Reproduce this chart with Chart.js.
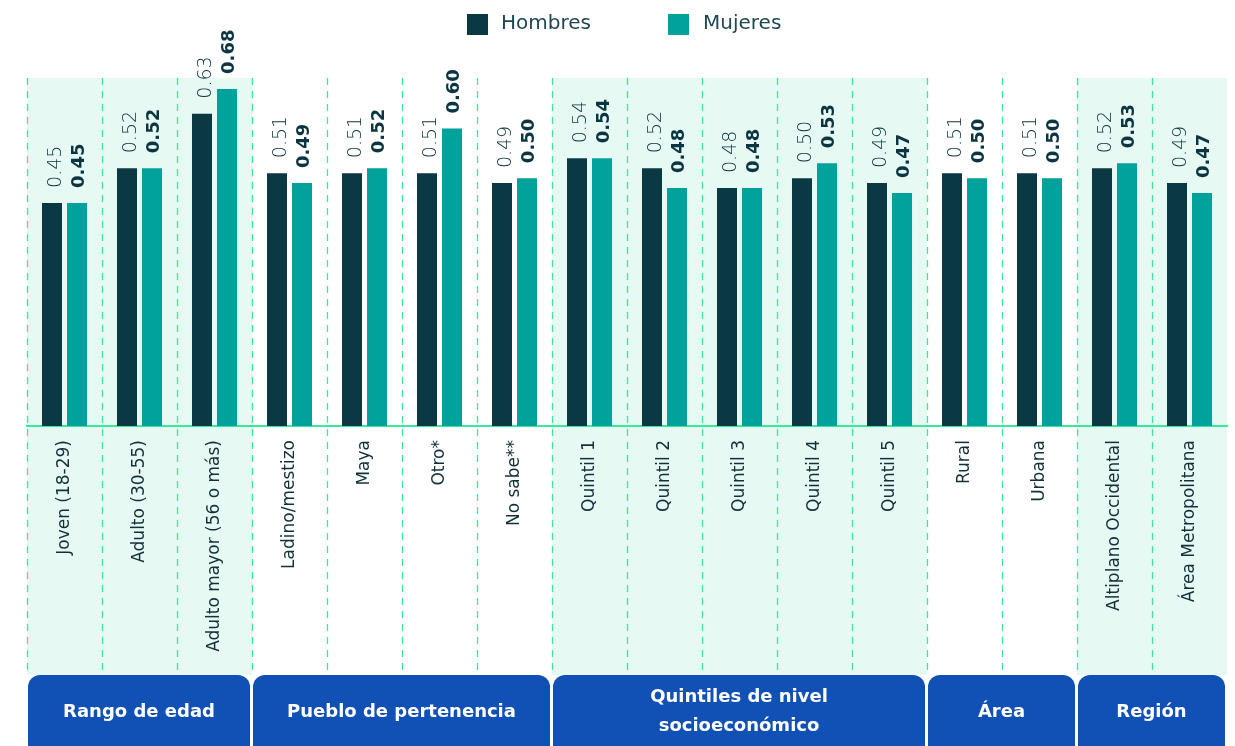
<!DOCTYPE html>
<html>
<head>
<meta charset="utf-8">
<script src="https://cdn.jsdelivr.net/npm/chart.js@4/dist/chart.umd.min.js"></script>
<style>
html,body{margin:0;padding:0;background:#fff;}
#wrap{width:1235px;height:746px;position:relative;}
</style>
</head>
<body>
<div id="wrap"><canvas id="c"></canvas></div>
<script>
const categories = ["Joven (18-29)","Adulto (30-55)","Adulto mayor (56 o más)","Ladino/mestizo","Maya","Otro*","No sabe**","Quintil 1","Quintil 2","Quintil 3","Quintil 4","Quintil 5","Rural","Urbana","Altiplano Occidental","Área Metropolitana"];
const hombres = [0.45,0.52,0.63,0.51,0.51,0.51,0.49,0.54,0.52,0.48,0.50,0.49,0.51,0.51,0.52,0.49];
const mujeres = [0.45,0.52,0.68,0.49,0.52,0.60,0.50,0.54,0.48,0.48,0.53,0.47,0.50,0.50,0.53,0.47];
const seriesNames = ["Hombres","Mujeres"];
const groupNames = [["Rango de edad"],["Pueblo de pertenencia"],["Quintiles de nivel","socioeconómico"],["Área"],["Región"]];
const groupSizes = [3,4,5,2,2];
const groupShaded = [true,false,true,false,true];

const C_H = '#0a3843', C_M = '#00a29b', C_SHADE = '#e6f9f3', C_DASH = '#3ae89c', C_BOX = '#1150b4', C_TXT = '#12303a';

const decor = {
  id:'decor',
  beforeDraw(chart){
    const ctx = chart.ctx, x = chart.scales.x, ca = chart.chartArea;
    const step = x.getPixelForValue(1) - x.getPixelForValue(0);
    const top = ca.top - 1, bottom = 675;
    ctx.save();
    let idx = 0;
    groupSizes.forEach((n,g)=>{
      const l = x.getPixelForValue(idx) - step/2;
      const r = x.getPixelForValue(idx+n-1) + step/2;
      if(groupShaded[g]){ ctx.fillStyle = C_SHADE; ctx.fillRect(l, top, r-l, bottom-top); }
      idx += n;
    });
    ctx.strokeStyle = C_DASH; ctx.lineWidth = 1.3; ctx.setLineDash([7,6]);
    for(let i=0;i<categories.length;i++){
      const px = Math.round(x.getPixelForValue(i) - step/2) + 0.5;
      ctx.beginPath(); ctx.moveTo(px, top); ctx.lineTo(px, bottom); ctx.stroke();
    }
    ctx.restore();
  },
  afterDatasetsDraw(chart){
    const ctx = chart.ctx;
    ctx.save();
    chart.data.datasets.forEach((ds,di)=>{
      const meta = chart.getDatasetMeta(di);
      meta.data.forEach((bar,i)=>{
        ctx.save();
        ctx.translate(bar.x + (di===0?9:7), bar.y - 15);
        ctx.rotate(-Math.PI/2);
        ctx.font = di===0 ? '300 19px "DejaVu Sans"' : 'bold 18px "DejaVu Sans"';
        ctx.fillStyle = di===0 ? '#083039' : '#0b3540';
        ctx.textAlign = 'left'; ctx.textBaseline = 'alphabetic';
        ctx.fillText(ds.data[i].toFixed(2), 0, 0);
        ctx.restore();
      });
    });
    ctx.restore();
  },
  afterDraw(chart){
    const ctx = chart.ctx, x = chart.scales.x;
    const step = x.getPixelForValue(1) - x.getPixelForValue(0);
    ctx.save();
    let idx = 0;
    groupSizes.forEach((n,g)=>{
      const l = x.getPixelForValue(idx) - step/2 + 1;
      const r = x.getPixelForValue(idx+n-1) + step/2 - 2;
      ctx.fillStyle = C_BOX;
      ctx.beginPath(); ctx.roundRect(l, 675, r-l, 90, 12); ctx.fill();
      ctx.fillStyle = '#ffffff'; ctx.font = 'bold 18px "DejaVu Sans"';
      ctx.textAlign = 'center'; ctx.textBaseline = 'middle';
      const lines = groupNames[g];
      const cx = (l+r)/2;
      if(lines.length === 1){ ctx.fillText(lines[0], cx, 712); }
      else { ctx.fillText(lines[0], cx, 697); ctx.fillText(lines[1], cx, 726); }
      idx += n;
    });
    const items = [[467,501],[668,703]];
    chart.data.datasets.forEach((ds,di)=>{
      ctx.fillStyle = ds.backgroundColor;
      ctx.fillRect(items[di][0], 14, 21, 21);
      ctx.fillStyle = '#1e4752'; ctx.font = '20px "DejaVu Sans"';
      ctx.textAlign = 'left'; ctx.textBaseline = 'middle';
      ctx.fillText(ds.label, items[di][1], 24);
    });
    ctx.restore();
  }
};

new Chart(document.getElementById('c'), {
  type:'bar',
  data:{
    labels: categories,
    datasets:[
      {label:seriesNames[0], data:hombres, backgroundColor:C_H, categoryPercentage:0.667, barPercentage:0.8},
      {label:seriesNames[1], data:mujeres, backgroundColor:C_M, categoryPercentage:0.667, barPercentage:0.8}
    ]
  },
  options:{
    responsive:true, maintainAspectRatio:false, animation:false,
    layout:{padding:{top:79,left:27,right:8,bottom:70}},
    plugins:{legend:{display:false}, tooltip:{enabled:false}},
    scales:{
      x:{
        offset:true,
        grid:{display:false, drawTicks:false},
        border:{display:true, color:C_DASH, width:2},
        ticks:{autoSkip:false, maxRotation:90, minRotation:90, padding:14, color:C_TXT, font:{family:'DejaVu Sans', size:17}},
        afterFit(s){ s.height = 250; }
      },
      y:{display:false, min:0, max:0.7}
    }
  },
  plugins:[decor]
});
</script>
</body>
</html>
